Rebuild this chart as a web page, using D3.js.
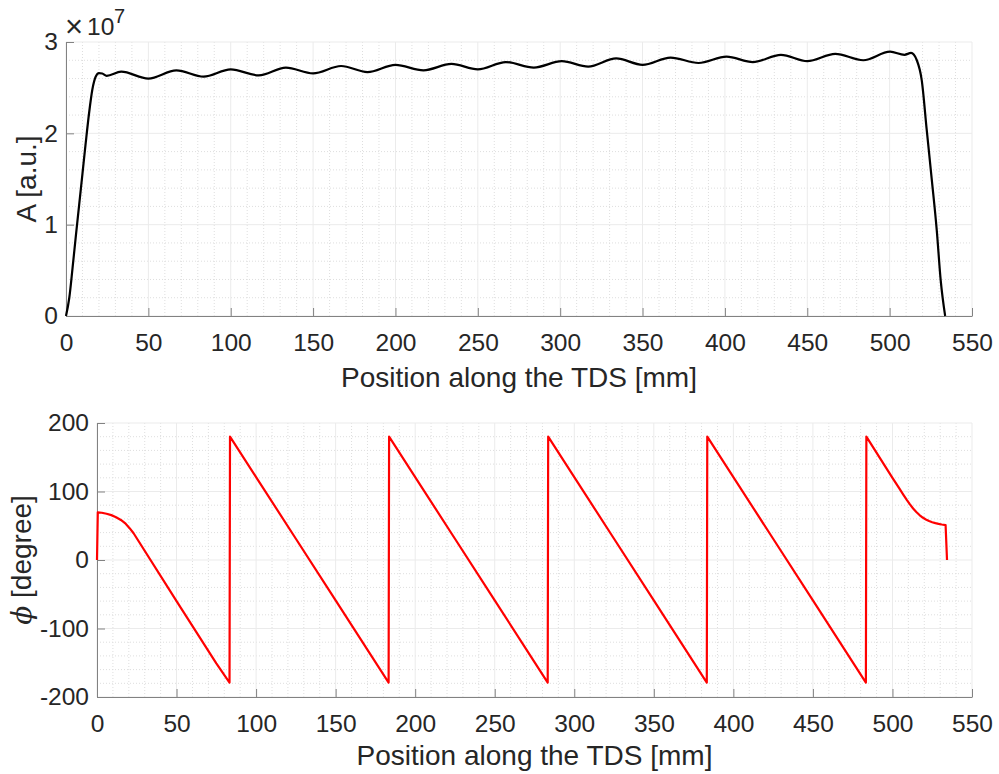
<!DOCTYPE html>
<html>
<head>
<meta charset="utf-8">
<script src="https://cdn.jsdelivr.net/npm/d3@7"></script>
<style>
  body { margin: 0; background: #fff; }
  svg { display: block; font-family: 'Liberation Sans', Arial, Helvetica, sans-serif; }
</style>
</head>
<body>
<svg id="chart" width="999" height="774"></svg>
<script>
// tick labels
const xTicks = [0, 50, 100, 150, 200, 250, 300, 350, 400, 450, 500, 550];
const ampTicks = [0, 1, 2, 3];
const phaseTicks = [-200, -100, 0, 100, 200];

// amplitude along the structure (x1e7 a.u.)
const ampPos = [0, 2, 4, 6, 8, 10, 12, 14, 16, 18, 20, 22, 24.7, 33.5, 50, 67, 83.5, 100, 117,
  133.5, 150, 167, 183, 200, 217, 234, 250, 267, 284, 301, 317, 334, 350, 367, 384, 401, 417,
  434, 450, 467, 484, 500.3, 509, 513, 516.5, 519.5, 522.5, 525.6, 528.6, 531, 533.7];
const ampVal = [0, 0.2, 0.53, 0.88, 1.22, 1.56, 1.9, 2.22, 2.48, 2.62, 2.66, 2.655, 2.63, 2.675,
  2.6, 2.69, 2.62, 2.7, 2.635, 2.72, 2.657, 2.737, 2.67, 2.75, 2.69, 2.76, 2.7, 2.78, 2.72, 2.79,
  2.73, 2.82, 2.75, 2.83, 2.77, 2.84, 2.78, 2.86, 2.79, 2.87, 2.8, 2.894, 2.86, 2.88, 2.8, 2.58,
  2.04, 1.49, 0.94, 0.39, 0];

// phase along the structure (degree)
const phasePos = [0, 0.5, 3, 6, 9, 12, 15, 18, 20.5, 23, 50, 75, 83.3, 83.6, 100, 125, 150, 175,
  183.3, 183.6, 200, 225, 250, 275, 283.3, 283.6, 300, 325, 350, 375, 383.3, 383.6, 400, 425, 450,
  475, 483.3, 483.6, 500, 504, 507, 509, 511, 513, 515, 517, 519, 521, 523, 525, 527, 529, 531,
  533.4, 534.3];
const phaseVal = [0, 69.5, 69, 67.5, 65.5, 62.5, 58.5, 53, 46.5, 39, -60, -151, -179, 180, 121,
  31, -59, -149, -179, 180, 121, 31, -59, -149, -179, 180, 121, 31, -59, -149, -179, 180, 121, 31,
  -59, -149, -179, 180, 120, 105.6, 94.8, 87.8, 81.2, 75.2, 70, 65.6, 62, 59.2, 57, 55.2, 53.8,
  52.7, 51.8, 51, 0];

const svg = d3.select('#chart');
const axisColor = '#828282';
const textColor = '#262626';

function drawPanel(opts) {
  const { left, right, top, bottom, yDomain, yTicks, yMinor, xs, ys, color, curve, yLabel, labelY } = opts;

  const x = d3.scaleLinear().domain([0, 550]).range([left, right]);
  const y = d3.scaleLinear().domain(yDomain).range([bottom, top]);
  const g = svg.append('g');

  // minor grid
  const xMinor = d3.range(0, 551, 10).filter(v => v % 50 !== 0);
  const yMinorVals = d3.range(yDomain[0], yDomain[1] + 1e-9, yMinor)
    .filter(v => !yTicks.some(t => Math.abs(t - v) < 1e-9));

  g.selectAll('.xminor').data(xMinor).enter().append('line')
    .attr('x1', d => x(d)).attr('x2', d => x(d))
    .attr('y1', top).attr('y2', bottom)
    .style('stroke', '#dedede').style('stroke-dasharray', '1,2');
  g.selectAll('.yminor').data(yMinorVals).enter().append('line')
    .attr('x1', left).attr('x2', right)
    .attr('y1', d => y(d)).attr('y2', d => y(d))
    .style('stroke', '#dedede').style('stroke-dasharray', '1,2');

  // major grid
  g.selectAll('.xmajor').data(xTicks).enter().append('line')
    .attr('x1', d => x(d)).attr('x2', d => x(d))
    .attr('y1', top).attr('y2', bottom)
    .style('stroke', '#ebebeb');
  g.selectAll('.ymajor').data(yTicks).enter().append('line')
    .attr('x1', left).attr('x2', right)
    .attr('y1', d => y(d)).attr('y2', d => y(d))
    .style('stroke', '#ebebeb');

  // axes
  const fmt = d => String(d);
  const xAxis = g.append('g')
    .attr('transform', `translate(0, ${bottom})`)
    .call(d3.axisBottom(x).tickValues(xTicks).tickFormat(fmt).tickSizeInner(-8).tickSizeOuter(0));
  const yAxis = g.append('g')
    .attr('transform', `translate(${left}, 0)`)
    .call(d3.axisLeft(y).tickValues(yTicks).tickFormat(fmt).tickSizeInner(-8).tickSizeOuter(0));

  [xAxis, yAxis].forEach(a => {
    a.select('.domain').style('stroke', axisColor);
    a.selectAll('.tick line').style('stroke', axisColor);
    a.selectAll('.tick text')
      .style('font-size', '24.5px')
      .style('font-family', "'Liberation Sans', Arial, sans-serif")
      .style('fill', textColor);
  });
  xAxis.selectAll('.tick text').attr('y', 35).attr('dy', null);
  yAxis.selectAll('.tick text').attr('x', -8);

  // data line
  const line = d3.line()
    .x((d, i) => x(xs[i]))
    .y(d => y(d))
    .curve(curve);

  g.append('path')
    .datum(ys)
    .attr('d', line)
    .style('fill', 'none')
    .style('stroke', color)
    .style('stroke-width', 2.2)
    .style('stroke-linejoin', 'round');

  // labels
  g.append('text')
    .attr('x', (left + right) / 2)
    .attr('y', labelY)
    .attr('text-anchor', 'middle')
    .style('font-size', '28px')
    .style('fill', textColor)
    .text('Position along the TDS [mm]');

  const yl = g.append('text')
    .attr('transform', `translate(${opts.yLabelX}, ${(top + bottom) / 2}) rotate(-90)`)
    .attr('text-anchor', 'middle')
    .style('font-size', '28px')
    .style('fill', textColor);
  yLabel(yl);

  return g;
}

const ampPanel = drawPanel({
  left: 66, right: 972, top: 42, bottom: 316,
  yDomain: [0, 3], yTicks: ampTicks, yMinor: 0.2,
  xs: ampPos, ys: ampVal, color: '#000', curve: d3.curveMonotoneX,
  labelY: 387, yLabelX: 36,
  yLabel: t => t.text('A [a.u.]')
});

// exponent label
const exp = ampPanel.append('text')
  .attr('y', 35)
  .style('fill', textColor);
exp.append('tspan').attr('x', 65).attr('y', 37).style('font-size', '31px').text('\u00d7');
exp.append('tspan').attr('x', 87).attr('y', 35).style('font-size', '24.5px').text('10');
exp.append('tspan').attr('x', 114).attr('y', 23).style('font-size', '20px').text('7');

drawPanel({
  left: 97, right: 972, top: 423, bottom: 697,
  yDomain: [-200, 200], yTicks: phaseTicks, yMinor: 20,
  xs: phasePos, ys: phaseVal, color: '#ff0000', curve: d3.curveLinear,
  labelY: 765, yLabelX: 31,
  yLabel: t => {
    t.append('tspan').style('font-family', "'DejaVu Serif', 'Liberation Serif', serif").style('font-style', 'italic').text('\u03d5');
    t.append('tspan').text(' [degree]');
  }
});
</script>
</body>
</html>
